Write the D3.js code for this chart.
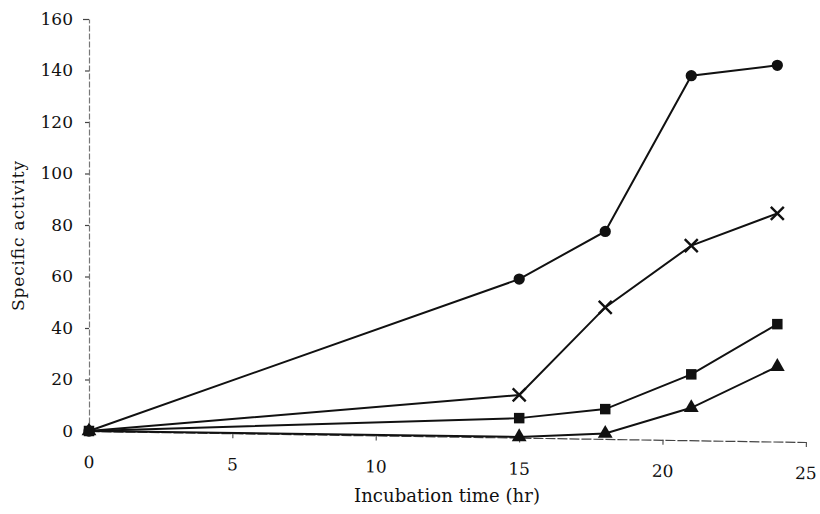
<!doctype html>
<html>
  <head>
    <meta charset="utf-8">
    <title>Specific activity vs incubation time</title>
    <script src="https://cdn.jsdelivr.net/npm/d3@7/dist/d3.min.js"></script>
    <style>
      html, body { margin:0; padding:0; background:#fff; overflow:hidden }
      svg text { font-family: "DejaVu Serif", serif !important; }
    </style>
  </head>
  <body>
    <div id="chart"></div>
    <script>
      var hours = [0, 15, 18, 21, 24];
      var circleSeries = [0, 59, 77.5, 138, 142];
      var crossSeries = [0, 14, 48, 72, 84.5];
      var squareSeries = [0, 5, 8.5, 22, 41.5];
      var triangleSeries = [0, -2.3, -1, 9, 25];
      var xTicks = [0, 5, 10, 15, 20, 25];
      var yTicks = [0, 20, 40, 60, 80, 100, 120, 140, 160];

      var W = 820, H = 514;
      var svg = d3.select("#chart").append("svg")
        .attr("width", W).attr("height", H);

      var x = d3.scaleLinear().domain([0, 25]).range([89, 806]);
      var y = d3.scaleLinear().domain([0, 160]).range([431, 19]);

      // y axis (scanned look: thin grey line)
      var yAxis = svg.append("g")
        .attr("transform", "translate(89,0)")
        .call(d3.axisLeft(y).tickValues(yTicks).tickSize(4).tickPadding(12).tickSizeOuter(0));
      yAxis.select(".domain").attr("stroke", "#777").attr("stroke-width", 1.2)
        .attr("stroke-dasharray", "6,2");
      yAxis.selectAll(".tick line").attr("stroke", "#444").attr("stroke-width", 1.2);
      yAxis.selectAll("text").attr("font-size", 17).attr("fill", "#111");
      yAxis.select(".tick:last-of-type line").attr("x2", -6);

      // x axis, slightly tilted like the scan
      var xAxis = svg.append("g")
        .attr("transform", "translate(0,431) rotate(0.88, 89, 0)")
        .call(d3.axisBottom(x).tickValues(xTicks).tickSize(5).tickPadding(20).tickSizeOuter(0));
      xAxis.select(".domain").attr("stroke", "#444").attr("stroke-width", 1.2)
        .attr("stroke-dasharray", "10,2");
      xAxis.selectAll(".tick line").attr("stroke", "#555").attr("stroke-width", 1.2);
      xAxis.selectAll("text").attr("font-size", 17).attr("fill", "#111");

      svg.append("text")
        .attr("x", 447).attr("y", 502)
        .attr("text-anchor", "middle")
        .attr("font-size", 18)
        .attr("fill", "#111")
        .attr("textLength", 186)
        .text("Incubation time (hr)");

      svg.append("text")
        .attr("transform", "translate(24,236) rotate(-90)")
        .attr("text-anchor", "middle")
        .attr("font-size", 17)
        .attr("fill", "#111")
        .attr("textLength", 150)
        .text("Specific activity");

      var line = d3.line()
        .x(function(d, i) { return x(hours[i]); })
        .y(function(d) { return y(d); });

      var series = [
        { values: triangleSeries, symbol: d3.symbolTriangle, size: 95 },
        { values: squareSeries, symbol: d3.symbolSquare, size: 110 },
        { values: crossSeries, symbol: "x", size: 0 },
        { values: circleSeries, symbol: d3.symbolCircle, size: 100 }
      ];

      series.forEach(function(s) {
        svg.append("path")
          .attr("d", line(s.values))
          .attr("fill", "none")
          .attr("stroke", "#111")
          .attr("stroke-width", 2);

        var pts = svg.append("g").selectAll("g")
          .data(s.values)
          .join("g")
          .attr("transform", function(d, i) { return "translate(" + x(hours[i]) + "," + y(d) + ")"; });

        if (s.symbol === "x") {
          pts.filter(function(d, i) { return i > 0; })
            .append("path")
            .attr("d", "M-6.5,-6.5L6.5,6.5M-6.5,6.5L6.5,-6.5")
            .attr("stroke", "#111")
            .attr("stroke-width", 2.4);
        } else {
          pts.append("path")
            .attr("d", d3.symbol().type(s.symbol).size(s.size))
            .attr("fill", "#111");
        }
      });
    </script>
  </body>
</html>
